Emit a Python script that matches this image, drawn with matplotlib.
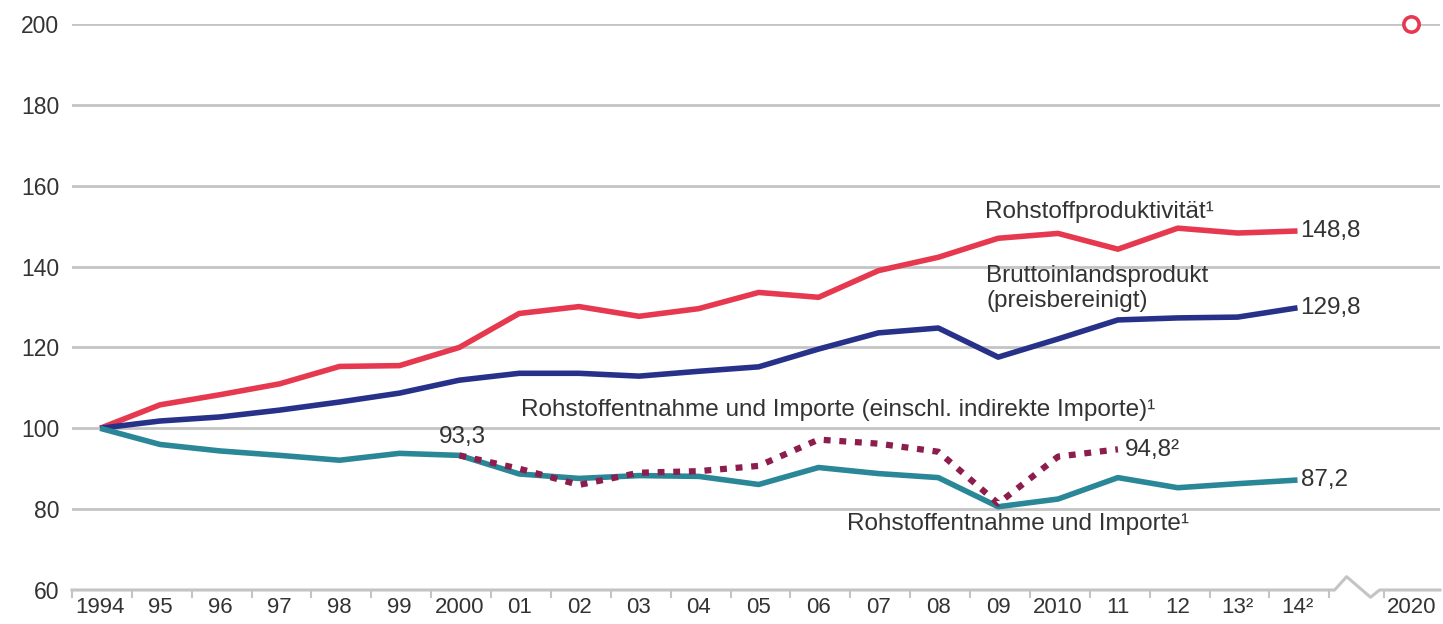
import matplotlib.pyplot as plt
import numpy as np

plt.rcParams['font.family'] = ['Liberation Sans', 'DejaVu Sans']

years = ['1994', '95', '96', '97', '98', '99', '2000', '01', '02', '03', '04',
         '05', '06', '07', '08', '09', '2010', '11', '12', '13²', '14²']
produktivitaet = [100, 105.8, 108.3, 111.0, 115.3, 115.5, 120.0, 128.4, 130.1, 127.7, 129.6,
                  133.6, 132.4, 139.0, 142.3, 147.0, 148.2, 144.3, 149.5, 148.3, 148.8]
bip = [100, 101.8, 102.8, 104.5, 106.5, 108.7, 111.9, 113.6, 113.6, 112.9, 114.1,
       115.2, 119.6, 123.6, 124.8, 117.6, 122.1, 126.8, 127.3, 127.5, 129.8]
entnahme = [100, 96.0, 94.4, 93.3, 92.1, 93.8, 93.3, 88.7, 87.6, 88.3, 88.1,
            86.1, 90.3, 88.8, 87.8, 80.6, 82.5, 87.8, 85.3, 86.3, 87.2]
# indirect imports series, 2000 to 2011
indirekt = [93.3, 90.0, 86.0, 89.0, 89.4, 90.7, 97.2, 96.2, 94.2, 81.4, 93.0, 94.8]
ziel_jahr = '2020'
ziel_wert = 200

red = '#e63950'
navy = '#27318a'
teal = '#2a8797'
maroon = '#8c1d4c'
grey = '#c4c4c4'
txt = '#333333'

fig = plt.figure(figsize=(14.43, 6.24), dpi=100)
ax = fig.add_axes([72 / 1443, 34 / 624, 1368 / 1443, 566 / 624])

x = np.arange(len(years))
x_ziel = 21.9
x_ind = np.arange(6, 6 + len(indirekt))

for v in range(80, 201, 20):
    ax.axhline(v, color=grey, lw=2, zorder=1)

ax.plot(x, produktivitaet, color=red, lw=4, solid_capstyle='butt', zorder=3)
ax.plot(x, bip, color=navy, lw=4, solid_capstyle='butt', zorder=3)
ax.plot(x, entnahme, color=teal, lw=4, solid_capstyle='butt', zorder=3)
ax.plot(x_ind, indirekt, color=maroon, lw=4.5, linestyle=(0, (1.1, 1.4)), zorder=4)
ax.plot([x_ziel], [ziel_wert], 'o', ms=11, mfc='white', mec=red, mew=2.6,
        clip_on=False, zorder=5)

# bottom axis line with break between 2014 and 2020
xl = (-0.47, 22.38)
gap0 = 20.62
zx = [xl[0], gap0, gap0 + 0.2, gap0 + 0.6, gap0 + 0.75, xl[1]]
zy = [60, 60, 63.3, 58.2, 60, 60]
ax.plot(zx, zy, color=grey, lw=2.2, clip_on=False, zorder=2)
tick_pos = list(np.arange(-0.47, 20.6, 1.0)) + [21.45]
for t in tick_pos:
    ax.plot([t, t], [60, 58.3], color=grey, lw=1.5, clip_on=False, zorder=2)

ax.set_xlim(xl)
ax.set_ylim(60, 200)
for s in ax.spines.values():
    s.set_visible(False)

ax.set_yticks(range(60, 201, 20))
ax.tick_params(axis='y', length=0, pad=9, labelsize=16.5, labelcolor=txt)
ax.set_xticks(list(x) + [x_ziel])
ax.set_xticklabels(years + [ziel_jahr])
ax.tick_params(axis='x', length=0, pad=5, labelsize=16, labelcolor=txt)

fs = 17.5
ax.text(14.78, 153.5, 'Rohstoffproduktivität¹', fontsize=fs, color=txt, va='center')
ax.text(20.05, produktivitaet[-1], '148,8', fontsize=fs, color=txt, va='center')
ax.text(14.8, 137.6, 'Bruttoinlandsprodukt', fontsize=fs, color=txt, va='center')
ax.text(14.8, 131.6, '(preisbereinigt)', fontsize=fs, color=txt, va='center')
ax.text(20.05, bip[-1], '129,8', fontsize=fs, color=txt, va='center')
ax.text(7.03, 104.5, 'Rohstoffentnahme und Importe (einschl. indirekte Importe)¹',
        fontsize=fs, color=txt, va='center')
ax.text(5.65, 97.9, '93,3', fontsize=fs, color=txt, va='center')
ax.text(17.12, 94.6, '94,8²', fontsize=fs, color=txt, va='center')
ax.text(20.05, entnahme[-1], '87,2', fontsize=fs, color=txt, va='center')
ax.text(12.48, 76.4, 'Rohstoffentnahme und Importe¹', fontsize=fs, color=txt, va='center')

fig.savefig('out.png', dpi=100, facecolor='white')
